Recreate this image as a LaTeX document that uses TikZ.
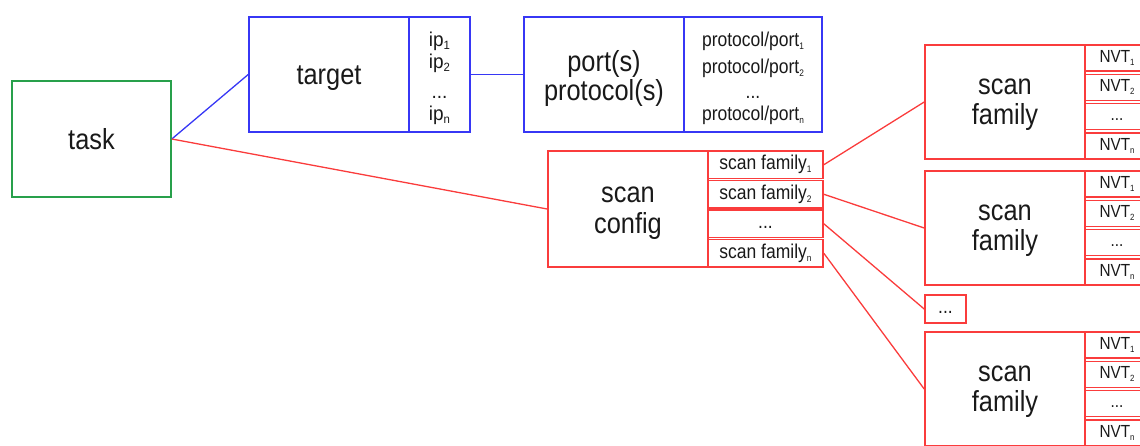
\documentclass[tikz,border=0pt]{standalone}
\usepackage{fontspec}
\setmainfont{Liberation Sans}
\newfontfamily\narrowfont[FakeStretch=0.875]{Liberation Sans}
\newfontfamily\ipfont[FakeStretch=0.95]{Liberation Sans}
\definecolor{lblue}{RGB}{55,55,245}
\definecolor{lred}{RGB}{250,60,60}
\definecolor{lgreen}{RGB}{40,160,75}
% lowered index digit/letter
\newcommand\idx[2][9.5]{\raisebox{-2.9pt}{\fontsize{#1}{#1}\selectfont #2}}
\newcommand\tdots{\vphantom{Ny}...}
% shift a text block down without changing its measured size
\newcommand\lowered[2]{\raisebox{-#1}[\height][\depth]{#2}}
\newcommand\stack[1]{\parbox[c]{150pt}{\centering #1}}
\newcommand\bigtext{\narrowfont\fontsize{29}{30}\selectfont}
\newcommand\smalltext{\narrowfont\fontsize{20}{25}\selectfont}
\newcommand\nvttext{\narrowfont\fontsize{17.5}{20}\selectfont}
\tikzset{
  mainbox/.style={draw=#1, line width=1.6pt, inner sep=0pt, minimum width=160pt,
    minimum height=115pt, align=center, font=\bigtext, text=black!90},
  cellbox/.style={draw=#1, line width=1.6pt, inner sep=0pt, align=center, text=black!90},
  link/.style={draw=#1, line width=1.3pt},
}
\begin{document}
\begin{tikzpicture}[x=1pt,y=-1pt]
\useasboundingbox (0,0) rectangle (1140,445);
\clip (0,0) rectangle (1140,445);

% task
\node[mainbox=lgreen, minimum width=159pt, minimum height=116pt] (task) at (91.5,139) {task};

% target with its address list
\node[mainbox=lblue] (target) at (329,74.5) {\lowered{3.4pt}{target}};
\node[cellbox=lblue, minimum width=61pt, minimum height=115pt,
      font={\ipfont\fontsize{20}{22}\selectfont}] (ips) at (439.5,74.5)
  {\lowered{4pt}{\parbox[c]{55pt}{\centering ip\idx[12]{1}\\ip\idx[12]{2}\\[8pt]...\\ip\idx[12]{n}}}};

% ports / protocols
\node[mainbox=lblue, font={\narrowfont\fontsize{29}{29.5}\selectfont}] (port) at (604,74.5)
  {\lowered{4pt}{\stack{port(s)\\protocol(s)}}};
\node[cellbox=lblue, minimum width=138pt, minimum height=115pt, font=\smalltext] (ports) at (753,74.5)
  {\lowered{3.5pt}{\parbox[c]{130pt}{\centering protocol/port\idx{1}\\[2pt]protocol/port\idx{2}\\
   ...\\[-3pt]protocol/port\idx{n}}}};

% scan config and its families
\node[mainbox=lred, minimum height=116pt, font={\narrowfont\fontsize{29}{31}\selectfont}] (config) at (628,209)
  {\lowered{4.5pt}{\stack{scan\\config}}};
\foreach \i/\y/\t in {1/164.75/{scan family\idx{1}}, 2/194.25/{scan family\idx{2}},
                      3/223.75/\tdots, 4/253.25/{scan family\idx{n}}}
  \node[cellbox=lred, minimum width=115pt, minimum height=27.5pt,
        font=\smalltext] (sf\i) at (765.5,\y) {\t};

% scan families with their NVTs
\foreach \f/\top in {1/45, 2/171, 3/332} {
  \node[mainbox=lred, minimum height=114pt]
    (fam\f) at (1005,\top+57) {\lowered{2.5pt}{\stack{scan\\family}}};
  \foreach \j/\t in {1/{NVT\idx[9]{1}}, 2/{NVT\idx[9]{2}}, 3/\tdots, 4/{NVT\idx[9]{n}}}
    \node[cellbox=lred, minimum width=64pt, minimum height=26pt,
          font=\nvttext] (nvt\f-\j) at (1117,\top+13+29.33*\j-29.33) {\t};
}
\node[cellbox=lred, minimum width=41pt, minimum height=28pt,
      font=\smalltext] (famdots) at (945.5,309) {\tdots};

% connectors
\draw[link=lblue] (task.east) -- (target.west);
\draw[link=lblue] (ips.east) -- (port.west);
\draw[link=lred] (task.east) -- (config.west);
\draw[link=lred] (sf1.east) -- (fam1.west);
\draw[link=lred] (sf2.east) -- (fam2.west);
\draw[link=lred] (sf3.east) -- (famdots.west);
\draw[link=lred] (sf4.east) -- (fam3.west);
\end{tikzpicture}
\end{document}
